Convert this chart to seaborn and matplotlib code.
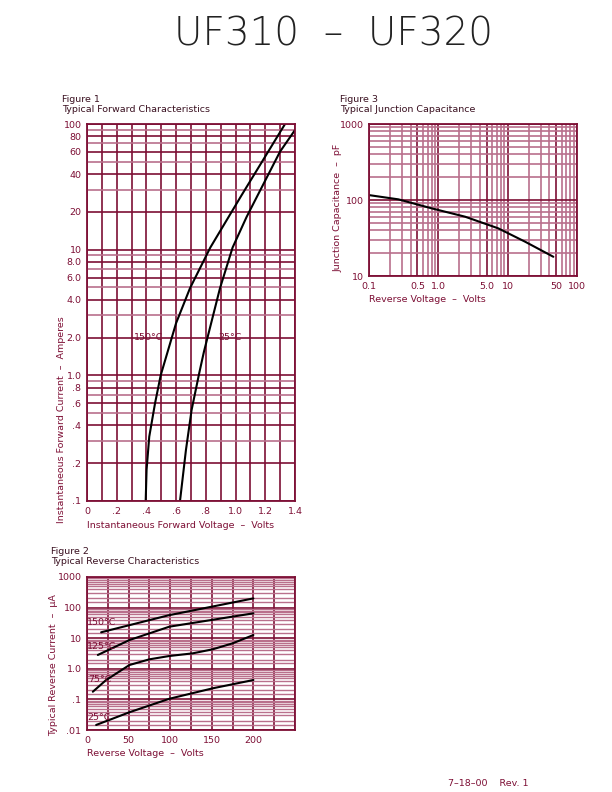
import numpy as np
import pandas as pd
import matplotlib
matplotlib.use("Agg")
import matplotlib.pyplot as plt
import matplotlib.ticker as mticker
import seaborn as sns

# Figure 1 - forward characteristics (current in A, voltage in V)
fwd_i_150 = [0.1, 0.177, 0.325, 0.60, 1.0, 2.59, 4.93, 10.4, 26.7, 100]
fwd_v_150 = [0.395, 0.401, 0.419, 0.458, 0.496, 0.599, 0.693, 0.83, 1.037, 1.333]
fwd_i_25 = [0.1, 0.255, 0.53, 1.05, 1.54, 4.93, 10.4, 18.3, 60.2, 89.6]
fwd_v_25 = [0.626, 0.666, 0.704, 0.756, 0.787, 0.895, 0.98, 1.075, 1.299, 1.40]

# Figure 2 - reverse characteristics (uA vs V)
rev_v_150 = [17, 98, 200]
rev_i_150 = [15.6, 56, 200]
rev_v_125 = [13, 51, 99, 200]
rev_i_125 = [2.83, 8.7, 23.8, 65]
rev_v_75 = [7, 23, 51, 75, 99, 127, 151, 175, 200]
rev_i_75 = [0.178, 0.43, 1.33, 2.04, 2.62, 3.2, 4.33, 6.8, 12.7]
rev_v_25 = [11, 51, 99, 151, 200]
rev_i_25 = [0.0146, 0.038, 0.105, 0.23, 0.43]

# Figure 3 - junction capacitance (pF vs V)
cap_v = [0.1, 0.265, 0.8, 2.43, 7.3, 17.8, 45.6]
cap_pf = [116, 102, 77.7, 60.3, 42.4, 28.3, 17.9]

fig1_xticks = [0, 0.2, 0.4, 0.6, 0.8, 1.0, 1.2, 1.4]
fig1_xlabels = ["0", ".2", ".4", ".6", ".8", "1.0", "1.2", "1.4"]
fig1_yticks = [0.1, 0.2, 0.4, 0.6, 0.8, 1, 2, 4, 6, 8, 10, 20, 40, 60, 80, 100]
fig1_ylabels = [".1", ".2", ".4", ".6", ".8", "1.0", "2.0", "4.0", "6.0", "8.0",
                "10", "20", "40", "60", "80", "100"]
fig2_xticks = [0, 50, 100, 150, 200]
fig2_yticks = [0.01, 0.1, 1, 10, 100, 1000]
fig2_ylabels = [".01", ".1", "1.0", "10", "100", "1000"]
fig3_xticks = [0.1, 0.5, 1, 5, 10, 50, 100]
fig3_xlabels = ["0.1", "0.5", "1.0", "5.0", "10", "50", "100"]
fig3_yticks = [10, 100, 1000]

sns.set_theme(style="white")
plt.rcParams['font.family'] = ['DejaVu Sans']

MAROON = "#7d0f35"
PINK = "#b9708c"
TXT = "#7d0f35"
FS = 6.8

fig = plt.figure(figsize=(6.12, 7.92), dpi=100)
W, H = 612, 792


def make_ax(l, t, r, b):
    return fig.add_axes([l / W, 1 - b / H, (r - l) / W, (b - t) / H])


def style(ax):
    for s in ax.spines.values():
        s.set_color(MAROON)
        s.set_linewidth(1.3)
    ax.tick_params(which="both", length=0, labelsize=FS, labelcolor=TXT, pad=4)
    ax.grid(which="major", color=MAROON, linewidth=1.2)
    ax.grid(which="minor", color=PINK, linewidth=1.2)
    ax.set_axisbelow(True)
    ax.set_xlabel("")
    ax.set_ylabel("")


def log_minor(ax, axis, subs):
    loc = mticker.LogLocator(base=10, subs=subs, numticks=20)
    if axis == "x":
        ax.xaxis.set_minor_locator(loc)
        ax.xaxis.set_minor_formatter(mticker.NullFormatter())
    else:
        ax.yaxis.set_minor_locator(loc)
        ax.yaxis.set_minor_formatter(mticker.NullFormatter())


def curve(ax, xs, ys):
    d = pd.DataFrame({"x": xs, "y": ys})
    sns.lineplot(data=d, x="x", y="y", ax=ax, color="black", lw=1.5,
                 sort=False, estimator=None)


# ---------------- Figure 1 ----------------
ax1 = make_ax(87, 124, 295, 501)
curve(ax1, fwd_v_150, fwd_i_150)
curve(ax1, fwd_v_25, fwd_i_25)
ax1.set_yscale("log")
ax1.set_xlim(0, 1.4)
ax1.set_ylim(0.1, 100)
ax1.set_xticks(fig1_xticks)
ax1.set_xticklabels(fig1_xlabels)
ax1.xaxis.set_minor_locator(mticker.MultipleLocator(0.1))
ax1.set_yticks(fig1_yticks)
ax1.set_yticklabels(fig1_ylabels)
log_minor(ax1, "y", [3, 5, 7, 9])
style(ax1)
ax1.grid(which="minor", axis="x", color=MAROON, linewidth=1.2)
ax1.text(0.415, 2.0, "150°C", fontsize=FS, color=TXT, ha="center", va="center")
ax1.text(0.965, 2.0, "25°C", fontsize=FS, color=TXT, ha="center", va="center")
fig.text(87 / W, 1 - 526 / H, "Instantaneous Forward Voltage  –  Volts", fontsize=FS,
         color=TXT, ha="left", va="center")
fig.text(61 / W, 1 - 420 / H, "Instantaneous Forward Current  –  Amperes", fontsize=FS,
         color=TXT, ha="center", va="center", rotation=90)
fig.text(62 / W, 1 - 99 / H, "Figure 1", fontsize=FS, color="#3a1020", ha="left", va="center")
fig.text(62 / W, 1 - 110 / H, "Typical Forward Characteristics", fontsize=FS,
         color="#3a1020", ha="left", va="center")

# ---------------- Figure 3 ----------------
ax3 = make_ax(369, 124, 577, 276)
curve(ax3, cap_v, cap_pf)
ax3.set_xscale("log")
ax3.set_yscale("log")
ax3.set_xlim(0.1, 100)
ax3.set_ylim(10, 1000)
ax3.set_xticks(fig3_xticks)
ax3.set_xticklabels(fig3_xlabels)
ax3.set_yticks(fig3_yticks)
ax3.set_yticklabels([str(t) for t in fig3_yticks])
log_minor(ax3, "x", [2, 3, 4, 6, 7, 8, 9])
log_minor(ax3, "y", [2, 3, 4, 5, 6, 7, 8, 9])
style(ax3)
fig.text(369 / W, 1 - 300 / H, "Reverse Voltage  –  Volts", fontsize=FS, color=TXT,
         ha="left", va="center")
fig.text(338 / W, 1 - 208 / H, "Junction Capacitance  –  pF", fontsize=FS, color=TXT,
         ha="center", va="center", rotation=90)
fig.text(340 / W, 1 - 99 / H, "Figure 3", fontsize=FS, color="#3a1020", ha="left", va="center")
fig.text(340 / W, 1 - 110 / H, "Typical Junction Capacitance", fontsize=FS,
         color="#3a1020", ha="left", va="center")

# ---------------- Figure 2 ----------------
ax2 = make_ax(87, 577, 295, 730)
curve(ax2, rev_v_150, rev_i_150)
curve(ax2, rev_v_125, rev_i_125)
curve(ax2, rev_v_75, rev_i_75)
curve(ax2, rev_v_25, rev_i_25)
ax2.set_yscale("log")
ax2.set_xlim(0, 250)
ax2.set_ylim(0.01, 1000)
ax2.set_xticks(fig2_xticks)
ax2.set_xticklabels([str(t) for t in fig2_xticks])
ax2.xaxis.set_minor_locator(mticker.MultipleLocator(25))
ax2.set_yticks(fig2_yticks)
ax2.set_yticklabels(fig2_ylabels)
log_minor(ax2, "y", [1.5, 2, 3, 4, 5, 6, 7, 8, 9])
style(ax2)
ax2.grid(which="minor", axis="x", color=MAROON, linewidth=1.2)
ax2.grid(which="minor", axis="y", color=PINK, linewidth=1.0)
for lab, xv, yv in [("150°C", 0, 31.5), ("125°C", 0, 5.3), ("75°C", 2, 0.45), ("25°C", 0, 0.026)]:
    ax2.text(xv, yv, lab, fontsize=FS, color=TXT, ha="left", va="center")
fig.text(87 / W, 1 - 753 / H, "Reverse Voltage  –  Volts", fontsize=FS, color=TXT,
         ha="left", va="center")
fig.text(54 / W, 1 - 665 / H, "Typical Reverse Current  –  μA", fontsize=FS, color=TXT,
         ha="center", va="center", rotation=90)
fig.text(51 / W, 1 - 551 / H, "Figure 2", fontsize=FS, color="#3a1020", ha="left", va="center")
fig.text(51 / W, 1 - 562 / H, "Typical Reverse Characteristics", fontsize=FS,
         color="#3a1020", ha="left", va="center")

# heading and footer
fig.text(333 / W, 1 - 35 / H, "UF310  –  UF320", fontsize=28, fontweight="light",
         color="#222222", ha="center", va="center")
fig.text(448 / W, 1 - 784 / H, "7–18–00    Rev. 1", fontsize=FS, color=TXT,
         ha="left", va="center")

fig.savefig("out.png", dpi=100)
